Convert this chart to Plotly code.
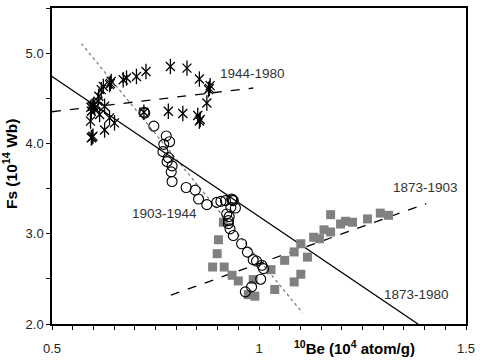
import plotly.graph_objects as go

# ---- data ----
ast_x = [0.727, 0.704, 0.680, 0.672, 0.643, 0.639, 0.624, 0.619, 0.613, 0.611,
         0.597, 0.603, 0.595, 0.627, 0.615, 0.639, 0.651, 0.593, 0.627, 0.599,
         0.595, 0.786, 0.826, 0.856, 0.882, 0.878, 0.874, 0.781, 0.816, 0.852,
         0.856, 0.722, 0.600, 0.594, 0.597, 0.858, 0.880, 0.641]
ast_y = [4.797, 4.742, 4.724, 4.706, 4.687, 4.651, 4.632, 4.596, 4.522, 4.467,
         4.412, 4.393, 4.357, 4.412, 4.320, 4.283, 4.228, 4.247, 4.148, 4.081,
         4.063, 4.852, 4.834, 4.713, 4.640, 4.596, 4.448, 4.357, 4.332, 4.309,
         4.247, 4.346, 4.420, 4.400, 4.070, 4.265, 4.610, 4.665]

circ_x = [0.722, 0.724, 0.746, 0.776, 0.784, 0.770, 0.768, 0.781, 0.778, 0.790,
          0.788, 0.790, 0.824, 0.846, 0.854, 0.874, 0.898, 0.908, 0.919, 0.934,
          0.938, 0.936, 0.943, 0.932, 0.922, 0.928, 0.926, 0.926, 0.930, 0.938,
          0.958, 0.972, 0.986, 0.994, 1.007, 1.011, 1.004, 0.982, 0.967]
circ_y = [4.346, 4.336, 4.192, 4.083, 4.019, 3.990, 3.909, 3.843, 3.798, 3.751,
          3.685, 3.578, 3.512, 3.483, 3.384, 3.322, 3.347, 3.358, 3.366, 3.384,
          3.366, 3.375, 3.285, 3.292, 3.219, 3.189, 3.145, 3.112, 3.054, 2.980,
          2.889, 2.796, 2.713, 2.697, 2.650, 2.613, 2.496, 2.411, 2.356]

sq_x = [0.914, 0.902, 0.899, 0.888, 0.916, 0.935, 0.950, 0.986, 0.974, 0.990,
        1.029, 1.038, 1.085, 1.101, 1.062, 1.085, 1.101, 1.117, 1.132, 1.146,
        1.157, 1.173, 1.173, 1.197, 1.209, 1.226, 1.262, 1.293, 1.313]
sq_y = [3.127, 2.933, 2.779, 2.631, 2.631, 2.540, 2.477, 2.492, 2.325, 2.308,
        2.602, 2.382, 2.466, 2.551, 2.705, 2.798, 2.889, 2.741, 2.961, 2.944,
        3.043, 3.019, 3.211, 3.107, 3.138, 3.127, 3.164, 3.228, 3.204]

fit_all_x = [0.5, 1.384]          # 1873-1980 regression (solid)
fit_all_y = [4.742, 2.0]
fit_1944_x = [0.5, 0.986]         # 1944-1980 regression (dashed)
fit_1944_y = [4.351, 4.614]
fit_1873_x = [0.787, 1.404]       # 1873-1903 regression (dashed)
fit_1873_y = [2.319, 3.333]
fit_1903_x = [0.571, 1.105]       # 1903-1944 regression (dotted)
fit_1903_y = [5.106, 2.124]

x_tickvals = [0.5, 1.0, 1.5]
x_ticktext = ["0.5", "1", "1.5"]
y_tickvals = [2.0, 3.0, 4.0, 5.0]
y_ticktext = ["2.0", "3.0", "4.0", "5.0"]

labels = ["1944-1980", "1903-1944", "1873-1903", "1873-1980"]
label_x = [0.902, 0.688, 1.318, 1.297]
label_y = [4.772, 3.222, 3.509, 2.330]

FONT = "Liberation Sans, Arial, sans-serif"

fig = go.Figure()

# regression lines
fig.add_trace(go.Scatter(x=fit_1903_x, y=fit_1903_y, mode="lines",
                         line=dict(color="#777777", width=1.2, dash="dot"),
                         showlegend=False, hoverinfo="skip"))
fig.add_trace(go.Scatter(x=fit_all_x, y=fit_all_y, mode="lines",
                         line=dict(color="black", width=1.3),
                         showlegend=False, hoverinfo="skip"))
fig.add_trace(go.Scatter(x=fit_1944_x, y=fit_1944_y, mode="lines",
                         line=dict(color="black", width=1.3, dash="dash"),
                         showlegend=False, hoverinfo="skip"))
fig.add_trace(go.Scatter(x=fit_1873_x, y=fit_1873_y, mode="lines",
                         line=dict(color="black", width=1.3, dash="dash"),
                         showlegend=False, hoverinfo="skip"))

# 1873-1903 squares
fig.add_trace(go.Scatter(x=sq_x, y=sq_y, mode="markers",
                         marker=dict(symbol="square", size=9, color="#808080",
                                     line=dict(width=0)),
                         showlegend=False))
# 1903-1944 circles
fig.add_trace(go.Scatter(x=circ_x, y=circ_y, mode="markers",
                         marker=dict(symbol="circle-open", size=10, color="black",
                                     line=dict(width=1.1, color="black")),
                         showlegend=False))
# 1944-1980 asterisks (X + vertical stroke)
fig.add_trace(go.Scatter(x=ast_x, y=ast_y, mode="markers",
                         marker=dict(symbol="x-thin-open", size=9, color="black",
                                     line=dict(width=1.3, color="black")),
                         showlegend=False))
fig.add_trace(go.Scatter(x=ast_x, y=ast_y, mode="markers",
                         marker=dict(symbol="line-ns-open", size=11, color="black",
                                     line=dict(width=1.3, color="black")),
                         showlegend=False))

for t, lx, ly in zip(labels, label_x, label_y):
    fig.add_annotation(x=lx, y=ly, xref="x", yref="y", text=t, showarrow=False,
                       xanchor="left", yanchor="middle",
                       font=dict(family=FONT, size=13.5, color="#333333"))

# axis titles
fig.add_annotation(x=0.73, y=-0.075, xref="paper", yref="paper",
                   text="<b><sup>10</sup>Be (10<sup>4</sup> atom/g)</b>",
                   showarrow=False, xanchor="center", yanchor="middle",
                   font=dict(family=FONT, size=15, color="black"))
fig.add_annotation(x=-0.1, y=0.505, xref="paper", yref="paper",
                   text="<b>Fs (10<sup>14</sup> Wb)</b>", textangle=-90,
                   showarrow=False, xanchor="center", yanchor="middle",
                   font=dict(family=FONT, size=15.5, color="black"))

fig.update_xaxes(range=[0.5, 1.5], tickmode="array", tickvals=x_tickvals,
                 ticktext=x_ticktext, ticks="outside", ticklen=4, tickwidth=1.2,
                 tickcolor="black", showgrid=False, zeroline=False,
                 showline=True, linecolor="black", linewidth=1.5, mirror=True,
                 ticklabelstandoff=8,
                 minor=dict(dtick=0.05, tick0=0.5, ticks="outside", ticklen=4,
                            tickwidth=1.2, tickcolor="black", showgrid=False),
                 tickfont=dict(family=FONT, size=13, color="#222222"))
fig.update_yaxes(range=[2.0, 5.5], tickmode="array", tickvals=y_tickvals,
                 ticktext=y_ticktext, ticks="outside", ticklen=4, tickwidth=1.2,
                 tickcolor="black", showgrid=False, zeroline=False,
                 showline=True, linecolor="black", linewidth=1.5, mirror=True,
                 minor=dict(dtick=0.5, tick0=2.0, ticks="outside", ticklen=4,
                            tickwidth=1.2, tickcolor="black", showgrid=False),
                 tickfont=dict(family=FONT, size=13, color="#222222"))

fig.update_layout(width=481, height=364,
                  margin=dict(l=52, r=11, t=6, b=40),
                  paper_bgcolor="white", plot_bgcolor="white",
                  showlegend=False)

fig.write_html("out.html")
